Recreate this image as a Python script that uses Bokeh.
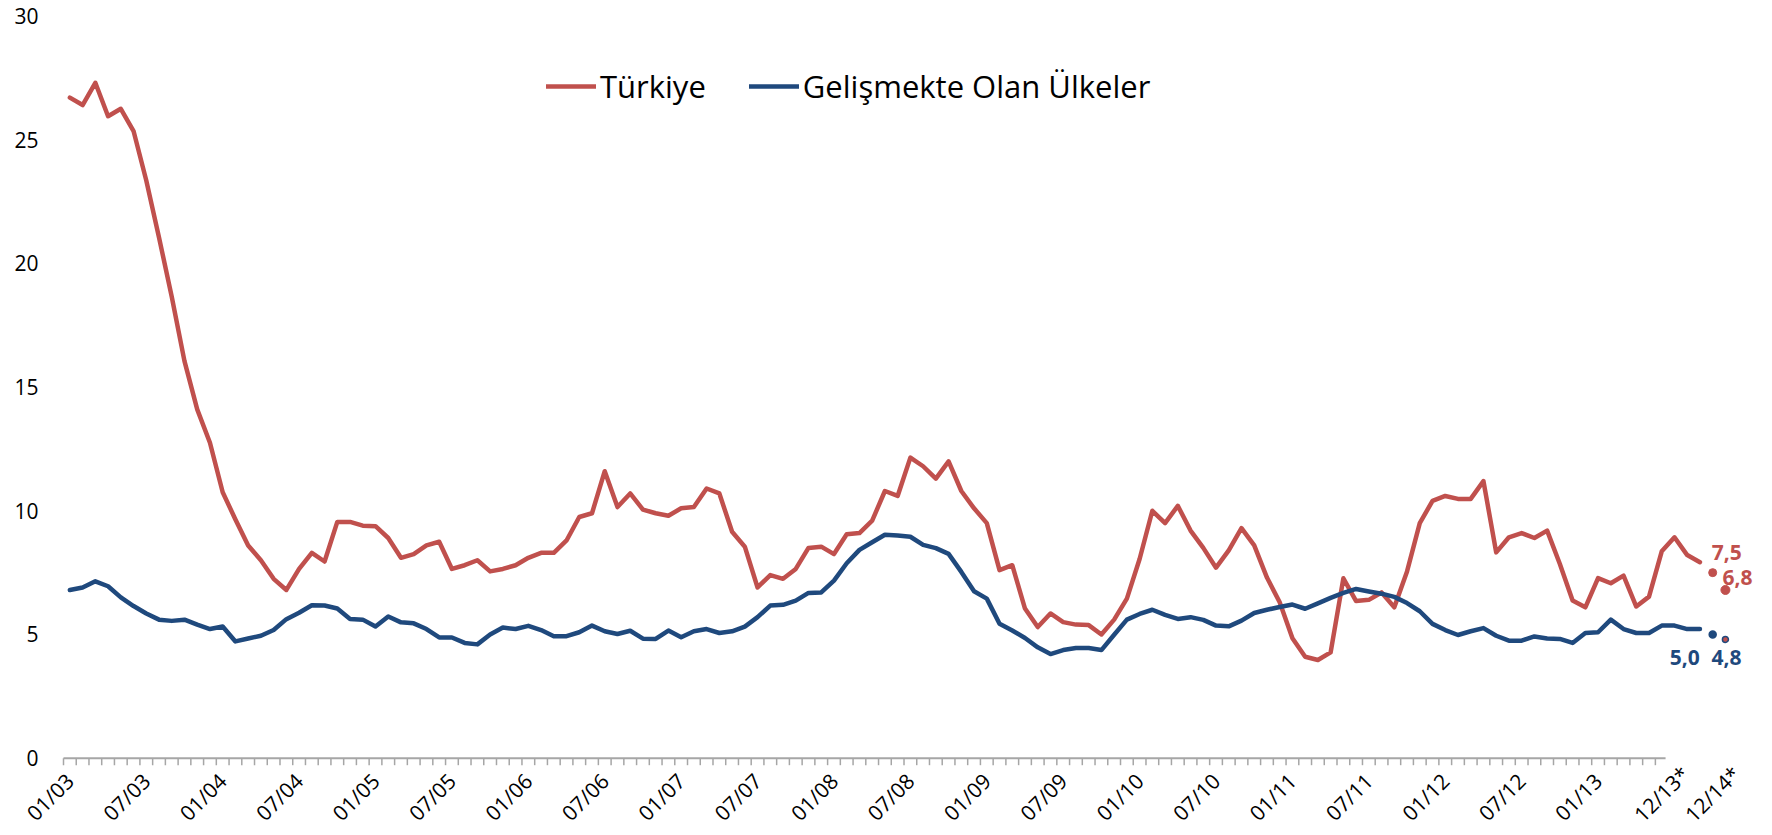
import math
from bokeh.plotting import figure
from bokeh.models import Range1d, FixedTicker, Legend, LegendItem
from bokeh.core.properties import value
from bokeh.embed import file_html
from bokeh.resources import INLINE

# ---------------- data (monthly, 01/03 .. 09/13) ----------------
turkiye = [
    26.7, 26.4, 27.3, 25.95, 26.25, 25.35, 23.35, 21.05, 18.65, 16.05,
    14.1, 12.75, 10.75, 9.65, 8.6, 8.0, 7.25, 6.8, 7.65, 8.3,
    7.95, 9.55, 9.55, 9.4, 9.38, 8.9, 8.1, 8.25, 8.6, 8.75,
    7.65, 7.8, 8.0, 7.55, 7.65, 7.8, 8.1, 8.3, 8.3, 8.8,
    9.75, 9.9, 11.6, 10.15, 10.7, 10.05, 9.9, 9.8, 10.1, 10.15,
    10.9, 10.7, 9.15, 8.55, 6.9, 7.4, 7.25, 7.65, 8.5, 8.55,
    8.25, 9.05, 9.1, 9.6, 10.8, 10.6, 12.15, 11.8, 11.3, 12.0,
    10.8, 10.1, 9.5, 7.6, 7.8, 6.05, 5.3, 5.85, 5.5, 5.4,
    5.38, 5.0, 5.6, 6.45, 8.05, 10.0, 9.5, 10.2, 9.2, 8.5,
    7.7, 8.4, 9.3, 8.6, 7.3, 6.3, 4.85, 4.1, 3.97, 4.28,
    7.27, 6.35, 6.4, 6.7, 6.1, 7.55, 9.5, 10.4, 10.6, 10.48,
    10.48, 11.2, 8.32, 8.93, 9.1, 8.9, 9.2, 7.85, 6.37, 6.1,
    7.28, 7.07, 7.38, 6.13, 6.53, 8.36, 8.93, 8.21, 7.92,
]
gelismekte = [
    6.8, 6.9, 7.15, 6.95, 6.5, 6.15, 5.85, 5.6, 5.55, 5.6,
    5.4, 5.22, 5.32, 4.72, 4.84, 4.95, 5.18, 5.62, 5.88, 6.18,
    6.17, 6.05, 5.63, 5.6, 5.32, 5.73, 5.49, 5.45, 5.22, 4.88,
    4.88, 4.66, 4.6, 5.0, 5.28, 5.22, 5.35, 5.18, 4.93, 4.93,
    5.09, 5.36, 5.13, 5.02, 5.15, 4.83, 4.82, 5.16, 4.89, 5.13,
    5.22, 5.06, 5.13, 5.32, 5.7, 6.17, 6.2, 6.37, 6.68, 6.7,
    7.18, 7.88, 8.42, 8.73, 9.03, 9.0, 8.95, 8.62, 8.49, 8.26,
    7.53, 6.75, 6.45, 5.43, 5.16, 4.86, 4.48, 4.21, 4.37, 4.45,
    4.45, 4.37, 4.99, 5.6, 5.83, 6.0, 5.79, 5.63, 5.7, 5.59,
    5.36, 5.33, 5.56, 5.87, 6.0, 6.11, 6.21, 6.04, 6.26, 6.48,
    6.68, 6.84, 6.74, 6.65, 6.52, 6.27, 5.94, 5.43, 5.18, 4.98,
    5.13, 5.26, 4.95, 4.75, 4.75, 4.92, 4.84, 4.82, 4.66, 5.06,
    5.09, 5.6, 5.22, 5.06, 5.06, 5.36, 5.36, 5.22, 5.22,
]
forecast_labels = ["12/13*", "12/14*"]
turkiye_forecast = [7.5, 6.8]
gelismekte_forecast = [5.0, 4.8]

tick_labels = ["01/03", "07/03", "01/04", "07/04", "01/05", "07/05", "01/06",
               "07/06", "01/07", "07/07", "01/08", "07/08", "01/09", "07/09",
               "01/10", "07/10", "01/11", "07/11", "01/12", "07/12", "01/13"]
y_ticks = [0, 5, 10, 15, 20, 25, 30]

# ---------------- styles / layout ----------------
RED = "#C0504D"
BLUE = "#1F497D"
GRID = "#D9D9D9"
AXIS = "#A6A6A6"
FONT = "Open Sans"

n = len(turkiye)
x = list(range(n))
fx = [n + k for k in range(len(forecast_labels))]

# whole canvas is the frame; axes are drawn by hand so labels are never clipped
p = figure(width=1770, height=833, x_axis_type=None, y_axis_type=None,
           x_range=Range1d(-5.447, 133.54), y_range=Range1d(-3.044, 30.626),
           output_backend="svg", toolbar_location=None,
           min_border_left=0, min_border_right=0,
           min_border_top=0, min_border_bottom=0)
p.outline_line_color = None
p.background_fill_color = "white"
p.border_fill_color = "white"

p.ygrid.ticker = FixedTicker(ticks=y_ticks)
p.ygrid.grid_line_color = GRID
p.ygrid.grid_line_width = 1.5
p.ygrid.grid_line_dash = "8 5"
p.ygrid.bounds = (-0.5, 130.5)

# value axis labels
p.text([-0.5] * len(y_ticks), y_ticks, text=[str(v) for v in y_ticks],
       x_offset=-25, text_font=value(FONT), text_font_size="21px",
       text_color="#000000", text_align="right", text_baseline="middle")

# category axis: baseline, monthly tick marks between categories, rotated labels
n_axis_cats = 125
tick_x = [k - 0.5 for k in range(n_axis_cats + 1)]
tick_len = 0.283   # ~7 px
p.segment(x0=[-0.5], y0=[0], x1=[n_axis_cats + 0.3], y1=[0], line_color=AXIS, line_width=2)
p.segment(x0=tick_x, y0=[0] * len(tick_x), x1=tick_x, y1=[-tick_len] * len(tick_x),
          line_color=AXIS, line_width=1.5)

label_pos = [6 * k for k in range(len(tick_labels))]
p.text(label_pos, [0] * len(label_pos), text=tick_labels, angle=math.pi / 4,
       x_offset=0, y_offset=19,
       text_font=value(FONT), text_font_size="21px", text_color="#000000",
       text_align="right", text_baseline="middle")
forecast_tick_pos = [127, 131]
p.text(forecast_tick_pos, [0] * len(forecast_tick_pos), text=forecast_labels, angle=math.pi / 4,
       x_offset=-2, y_offset=12,
       text_font=value(FONT), text_font_size="21px", text_color="#000000",
       text_align="right", text_baseline="middle")

# series
r_tr = p.line(x, turkiye, line_color=RED, line_width=4.5, line_join="round", line_cap="round")
r_em = p.line(x, gelismekte, line_color=BLUE, line_width=4.5, line_join="round", line_cap="round")

# forecast points
p.scatter(fx, turkiye_forecast, size=[8, 9], fill_color=RED, line_color=RED)
p.scatter(fx, gelismekte_forecast, size=[7, 6], fill_color=[BLUE, RED], line_color=BLUE, line_width=1.5)

fmt = lambda v: f"{v:.1f}".replace(".", ",")
p.text(fx, turkiye_forecast, text=[fmt(v) for v in turkiye_forecast],
       x_offset=[14, 12], y_offset=[-20, -12.5],
       text_font=value(FONT), text_font_style="bold", text_font_size="21px",
       text_color=RED, text_align="center", text_baseline="middle")
p.text(fx, gelismekte_forecast, text=[fmt(v) for v in gelismekte_forecast],
       x_offset=[-28, 1], y_offset=[23, 18],
       text_font=value(FONT), text_font_style="bold", text_font_size="21px",
       text_color=BLUE, text_align="center", text_baseline="middle")

legend = Legend(items=[LegendItem(label="Türkiye", renderers=[r_tr]),
                       LegendItem(label="Gelişmekte Olan Ülkeler", renderers=[r_em])],
                orientation="horizontal", location=(546, 724),
                glyph_width=50, glyph_height=46, label_height=46,
                label_standoff=4, spacing=43, padding=0, margin=0,
                border_line_color=None, background_fill_alpha=0,
                label_text_font=FONT, label_text_font_size="31px",
                label_text_color="#000000")
p.add_layout(legend)

open("out.html", "w").write(file_html(p, INLINE))
